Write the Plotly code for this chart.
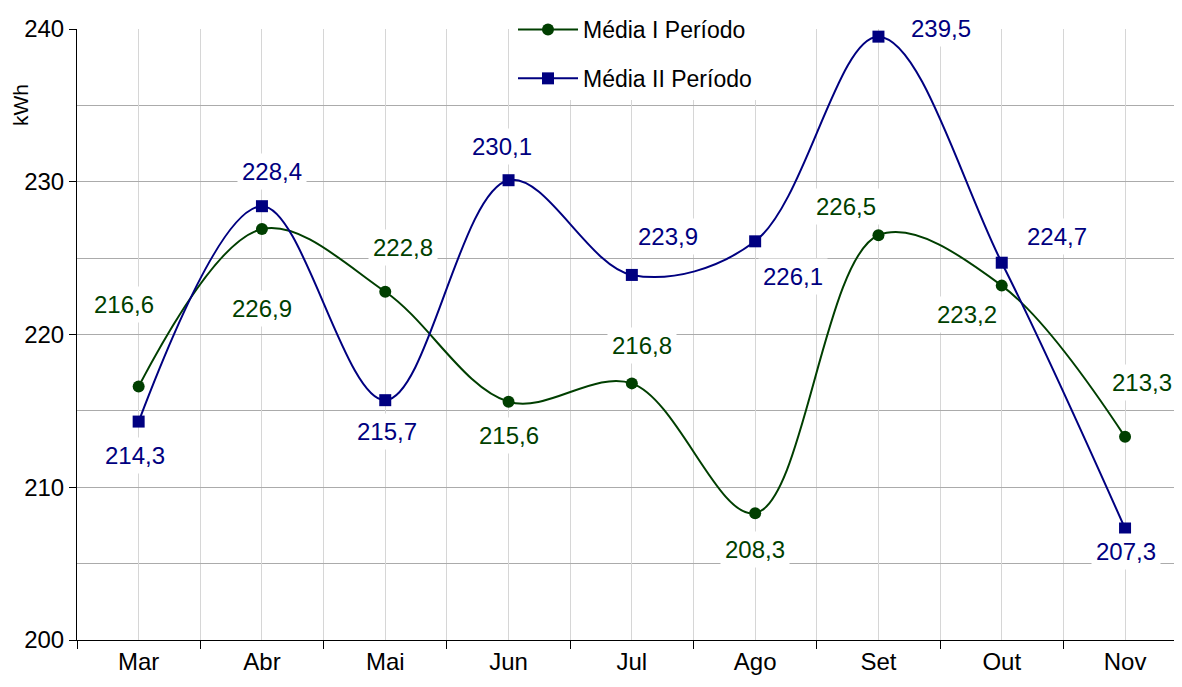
import plotly.graph_objects as go

months = ["Mar", "Abr", "Mai", "Jun", "Jul", "Ago", "Set", "Out", "Nov"]
media_1 = [216.6, 226.9, 222.8, 215.6, 216.8, 208.3, 226.5, 223.2, 213.3]
media_2 = [214.3, 228.4, 215.7, 230.1, 223.9, 226.1, 239.5, 224.7, 207.3]
name_1 = "Média I Período"
name_2 = "Média II Período"

# label offsets in pixels (dx, dy) relative to the point (dy positive = up)
off_1 = [(-15, 82), (0, -79), (18, 44), (0, -34), (10, 38), (0, -36), (-32, 29), (-35, -29), (17, 54)]
off_2 = [(-4, -34), (10, 35), (2, -31), (-7, 34), (36, 38), (38, -35), (63, 8), (55, 26), (1, -23)]

GREEN = "#003f00"
BLUE = "#000080"
FONT = "Arial, Liberation Sans, sans-serif"
xs = list(range(len(months)))

# page body has an 8px margin; size the figure so the page needs no scrollbars
W, H = 1166, 671
ML, MT, MB = 69, 21, 39
PW, PH = W - ML, H - MT - MB
PX_PER_CAT = 123.3

fig = go.Figure()
fig.add_trace(go.Scatter(
    x=xs, y=media_1, name=name_1, mode="lines+markers", legendgroup="a",
    line=dict(color=GREEN, width=2, shape="spline", smoothing=1.0),
    marker=dict(symbol="circle", size=12, color=GREEN),
))
fig.add_trace(go.Scatter(
    x=xs, y=media_2, name=name_2, mode="lines+markers", legendgroup="b",
    line=dict(color=BLUE, width=2, shape="spline", smoothing=1.0),
    marker=dict(symbol="square", size=12, color=BLUE),
))

def fmt(v):
    return f"{v:.1f}".replace(".", ",")

annotations = []
for vals, offs, col in ((media_1, off_1, GREEN), (media_2, off_2, BLUE)):
    for i, v in enumerate(vals):
        dx, dy = offs[i]
        annotations.append(dict(
            x=i, y=v, xref="x", yref="y", text=fmt(v), showarrow=False,
            xshift=dx, yshift=dy, bgcolor="white", borderpad=4,
            font=dict(family=FONT, size=24, color=col),
        ))

# y-axis title
annotations.append(dict(
    x=-(ML - 12) / PW, y=(611 - 76) / 611, xref="paper", yref="paper",
    text="kWh", textangle=-90, showarrow=False, xanchor="center", yanchor="middle",
    font=dict(family=FONT, size=21, color="black"),
))

fig.update_layout(
    width=W, height=H,
    margin=dict(l=ML, r=0, t=MT, b=MB, autoexpand=False),
    paper_bgcolor="white", plot_bgcolor="white",
    font=dict(family=FONT, size=24, color="black"),
    showlegend=True,
    legend=dict(
        x=505 / W, y=1.0, xref="container", yref="container",
        xanchor="left", yanchor="top",
        bgcolor="white", font=dict(family=FONT, size=23, color="black"),
        traceorder="grouped", tracegroupgap=16, itemwidth=60,
    ),
    annotations=annotations,
    xaxis=dict(
        range=[-0.5, -0.5 + PW / PX_PER_CAT], tickmode="array", tickvals=xs, ticktext=months,
        ticks="", showgrid=True, gridcolor="#d6d6d6", gridwidth=1,
        showline=True, linecolor="black", linewidth=1, zeroline=False,
        automargin=False,
        tickfont=dict(family=FONT, size=24, color="black"),
        minor=dict(tickmode="array", tickvals=[i - 0.5 for i in range(len(months) + 1)],
                   ticks="outside", ticklen=8, tickcolor="black", tickwidth=1,
                   showgrid=True, gridcolor="#d6d6d6", gridwidth=1),
        fixedrange=True,
    ),
    yaxis=dict(
        range=[200, 240], tickmode="array", tickvals=[200, 210, 220, 230, 240],
        ticks="outside", ticklen=7, tickcolor="black",
        showgrid=True, gridcolor="#ababab", gridwidth=1,
        showline=True, linecolor="black", linewidth=1, zeroline=False,
        automargin=False,
        tickfont=dict(family=FONT, size=24, color="black"),
        minor=dict(tickmode="array", tickvals=[205, 215, 225, 235], showgrid=True,
                   gridcolor="#ababab", gridwidth=1, ticks=""),
        fixedrange=True,
    ),
)

fig.write_html("out.html")
